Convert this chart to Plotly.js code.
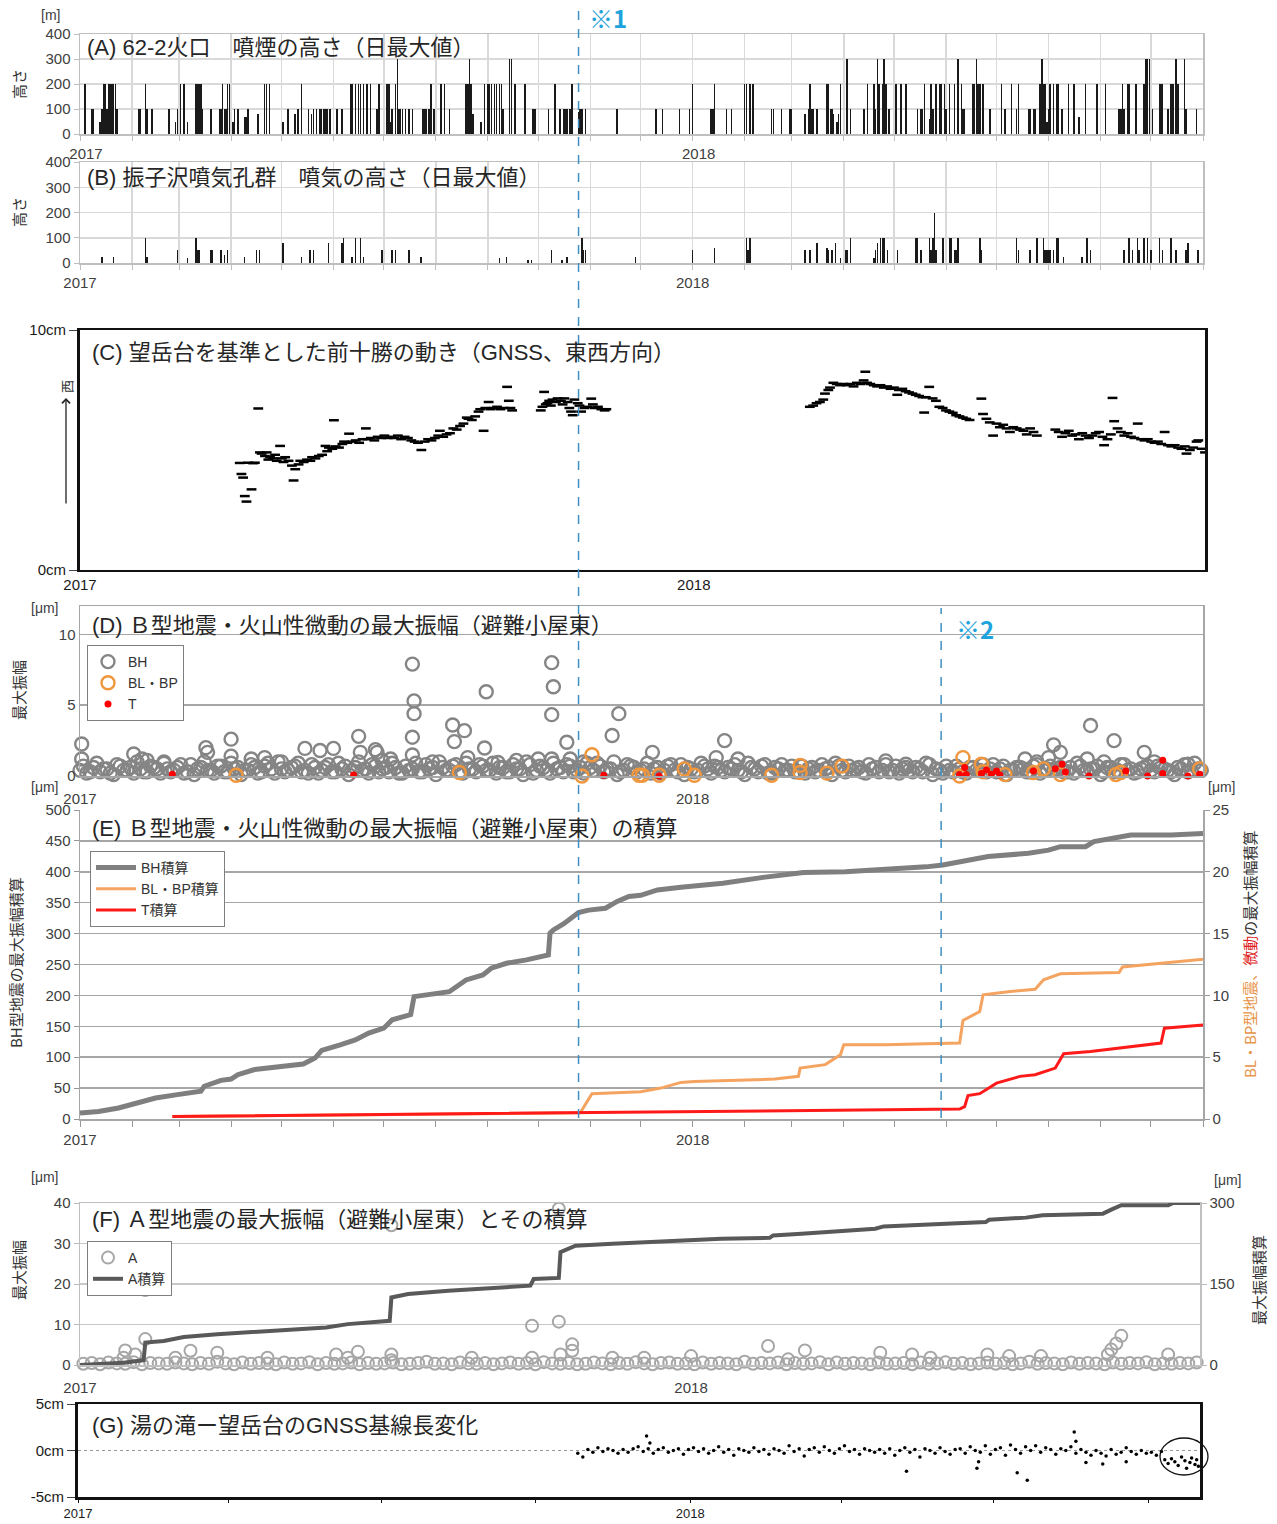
<!DOCTYPE html>
<html><head><meta charset="utf-8">
<script src="https://cdn.plot.ly/plotly-3.0.1.min.js"></script>
<style>html,body{margin:0;padding:0;background:#fff}#chart{width:1277px;height:1524px}</style>
</head><body><div id="chart"></div>
<script>
// ---------- DATA (x = days since 2017-01-01) ----------
// (A) 62-2 crater plume height, daily max [m]
const smokeDay = [3,7,8,12,13,14,15,16,17,18,
19,20,21,22,35,36,39,40,43,53,
57,58,60,62,64,69,70,71,72,73,
78,83,84,85,86,87,88,89,91,92,
94,98,99,100,106,110,111,113,121,124,
128,130,132,136,138,139,141,143,144,145,
146,147,149,153,156,161,162,164,166,167,
169,171,173,177,178,183,184,185,186,188,
189,190,191,192,194,196,198,204,205,206,
208,209,211,215,217,220,230,231,232,233,
234,239,241,243,244,245,247,248,250,251,
252,256,257,259,265,270,271,279,283,286,
288,289,290,292,293,297,298,299,301,320,
343,347,357,363,365,376,377,378,385,388,
396,397,399,401,412,413,418,423,424,432,
434,435,436,437,439,445,446,447,448,449,
451,452,453,457,459,467,469,473,474,475,
476,478,479,480,482,486,489,492,499,501,
502,503,506,507,508,510,512,513,515,516,
518,521,523,525,526,527,532,533,534,535,
536,538,542,549,551,555,558,559,565,566,
568,569,572,573,574,575,576,577,578,580,
582,583,585,589,592,595,599,606,611,619,
620,621,622,624,625,629,634,635,636,637,
639,643,644,645,648,650,651,653,654,658,
659,665];
const smokeHeight = [200,100,100,50,100,200,200,100,200,200,
200,200,200,100,100,100,200,100,100,100,
50,100,200,200,50,200,200,200,200,100,
100,100,100,200,100,100,200,200,50,100,
100,70,70,100,80,200,200,200,50,100,
80,100,200,100,80,100,100,100,100,100,
100,100,100,100,100,200,200,200,200,200,
200,200,200,100,200,200,200,50,100,200,
300,100,100,100,100,100,100,100,100,100,
100,200,100,200,200,100,200,200,300,200,
80,50,200,200,200,200,200,200,200,200,
100,300,300,200,200,100,100,100,200,100,
100,100,100,100,200,90,100,100,100,100,
100,100,100,100,200,100,100,200,100,100,
200,200,200,200,100,100,100,100,100,80,
100,200,100,100,100,200,200,100,100,80,
50,80,200,300,100,100,200,200,100,300,
200,200,300,200,100,200,200,200,100,100,
100,200,60,200,100,200,200,200,200,100,
200,200,300,200,100,100,200,200,300,200,
200,200,100,200,100,200,100,200,100,100,
100,100,200,300,200,200,50,100,200,200,
200,200,100,200,200,70,200,200,200,100,
100,200,100,200,200,200,200,300,300,300,
100,200,200,200,100,200,200,300,200,300,
100,100];

// (B) Furikozawa fumarole steam height, daily max [m]
const steamDay = [13,20,39,40,58,64,69,70,71,78,
79,84,86,88,98,105,107,121,132,137,
139,148,156,157,162,164,167,169,180,186,
188,196,203,250,254,267,269,281,287,290,
299,300,301,331,365,378,397,398,399,432,
435,439,445,446,448,450,453,456,457,459,
473,474,475,477,478,479,481,487,498,499,
501,506,507,508,509,510,514,518,519,521,
522,523,536,537,558,559,566,570,574,575,
576,577,578,580,582,583,586,597,600,602,
622,625,627,630,631,634,636,638,643,645,
650,653,659,660,666];
const steamHeight = [25,25,100,25,50,20,100,50,50,50,
50,50,30,50,25,50,50,80,25,50,
50,80,80,100,25,100,100,25,50,50,
50,50,25,20,25,10,10,50,10,25,
100,50,50,25,50,60,100,50,100,50,
50,80,60,50,50,80,20,50,50,100,
20,50,80,100,100,100,50,50,100,100,
50,100,50,100,200,50,100,100,100,50,
50,100,100,50,100,50,50,100,100,50,
50,50,50,50,100,100,25,25,100,50,
50,100,50,100,50,100,100,50,100,50,
100,50,50,80,50];

// (C) GNSS east-west [cm]
const gnssEWDay = [95,96,97,98,99,100,102,103,104,106,
107,108,110,111,112,113,115,116,117,119,
120,121,122,124,126,127,128,130,131,133,
135,137,138,140,142,144,146,147,148,150,
151,152,154,156,157,159,160,162,164,166,
168,170,171,173,175,177,179,181,183,185,
187,189,191,193,195,197,199,201,203,205,
207,209,211,213,214,216,218,220,222,224,
226,228,230,231,233,235,237,238,240,241,
243,244,246,248,250,252,254,255,256,257,
274,275,276,277,278,279,280,281,283,284,
286,287,288,290,291,292,293,294,296,297,
298,300,302,304,305,306,308,310,312,313,
434,436,438,440,442,443,445,446,448,450,
452,454,456,458,460,462,464,466,467,468,
470,472,474,476,478,480,482,484,486,487,
489,491,493,495,497,499,501,502,503,505,
507,509,511,513,515,517,519,521,523,525,
527,529,536,537,539,541,543,545,547,549,
551,553,555,557,559,561,563,565,567,569,
580,582,584,586,588,590,592,594,596,598,
600,602,604,606,608,609,611,613,614,615,
617,619,621,623,625,627,629,631,633,635,
637,639,641,643,645,647,649,651,653,655,
657,658,660,662,664,665,667,669];
const gnssEWcm = [4.46,4.0,3.85,3.08,2.85,4.47,3.36,4.45,4.47,6.73,
4.9,4.85,4.75,4.9,4.6,4.7,4.65,4.8,4.55,5.17,
4.65,4.5,4.7,4.55,4.35,3.73,4.2,4.4,4.55,4.5,
4.6,4.55,4.7,4.65,4.75,4.8,5.17,4.95,5.1,5.05,
6.24,5.15,5.1,5.25,5.35,5.3,5.68,5.35,5.4,5.3,
5.45,5.9,5.45,5.5,5.4,5.55,5.5,5.6,5.5,5.55,
5.5,5.6,5.45,5.55,5.5,5.4,5.35,5.3,5.0,5.35,
5.45,5.4,5.5,5.6,5.8,5.55,5.65,5.7,5.9,5.85,
6.0,6.1,6.35,6.3,6.25,6.4,6.6,6.7,5.8,6.75,
7.0,6.7,6.75,6.8,6.7,6.75,7.63,7.05,6.75,6.65,
6.65,6.8,7.42,6.9,6.95,7.05,6.85,7.1,7.0,7.15,
7.05,6.9,7.15,7.0,6.75,6.6,6.45,7.1,6.95,6.85,
6.6,6.75,6.8,7.14,6.9,6.75,6.8,6.7,6.65,6.7,
6.8,6.85,6.95,7.0,7.1,7.35,7.5,7.6,7.8,7.75,
7.7,7.75,7.7,7.75,7.65,7.8,7.75,7.9,8.26,7.8,
7.75,7.7,7.65,7.7,7.6,7.65,7.55,7.6,7.3,7.5,
7.55,7.45,7.4,7.35,7.3,7.25,7.2,6.56,7.2,7.63,
7.15,7.05,6.8,6.75,6.65,6.6,6.55,6.45,6.4,6.35,
6.3,6.25,7.14,6.5,6.3,6.15,5.6,6.1,5.95,6.05,
5.9,5.75,5.95,5.9,5.85,5.8,5.65,5.9,5.75,5.6,
5.85,5.75,5.55,5.7,5.8,5.6,5.65,5.45,5.7,5.6,
5.5,5.6,5.7,5.75,5.55,5.2,5.45,5.65,7.17,6.2,
5.9,5.75,5.6,5.7,5.55,5.5,6.1,5.45,5.4,5.45,
5.35,5.3,5.35,5.25,5.75,5.2,5.15,5.2,5.1,5.05,
5.15,4.85,5.0,5.1,5.35,5.4,5.05,4.9];

// (D) B-type max amplitude [μm]
const bhBaseDay = [0,4,8,12,16,20,24,28,32,36,40,44,
48,52,56,60,64,68,72,76,80,84,88,92,
96,100,104,108,112,116,120,124,128,132,136,140,
144,148,152,156,160,164,168,172,176,180,184,188,
192,196,200,204,208,212,216,220,224,228,232,236,
240,244,248,252,256,260,264,268,272,276,280,284,
288,292,296,300,304,308,312,316,320,324,328,332,
336,340,344,348,352,356,360,364,368,372,376,380,
384,388,392,396,400,404,408,412,416,420,424,428,
432,436,440,444,448,452,456,460,464,468,472,476,
480,484,488,492,496,500,504,508,512,516,520,524,
528,532,536,540,544,548,552,556,560,564,568,572,
576,580,584,588,592,596,600,604,608,612,616,620,
624,628,632,636,640,644,648,652,656,660,664,668];
const bhBaseVal = [0.4,0.2,0.6,0.3,0.5,0.1,0.7,0.4,0.2,0.5,0.3,0.6,
0.2,0.5,0.4,0.8,0.3,0.1,0.6,0.4,0.2,0.7,0.3,0.5,
0.1,0.4,0.6,0.3,0.9,0.2,0.5,0.4,0.7,0.3,0.2,0.6,
0.4,0.8,0.3,0.5,0.1,0.6,0.4,0.2,0.7,0.5,0.3,0.6,
0.2,0.4,0.9,0.3,0.5,0.1,0.6,0.4,0.8,0.2,0.5,0.3,
0.7,0.4,0.2,0.6,0.3,0.5,0.1,0.8,0.4,0.6,0.2,0.5,
0.3,0.7,0.4,0.2,0.6,0.9,0.3,0.5,0.1,0.4,0.7,0.3,
0.5,0.2,0.6,0.4,0.8,0.3,0.1,0.5,0.4,0.7,0.2,0.6,
0.3,0.5,0.4,0.1,0.6,0.3,0.8,0.2,0.5,0.4,0.7,0.3,
0.2,0.6,0.4,0.5,0.1,0.7,0.3,0.4,0.6,0.2,0.5,0.3,
0.8,0.4,0.2,0.6,0.3,0.5,0.9,0.1,0.4,0.7,0.3,0.5,
0.2,0.6,0.4,0.3,0.8,0.5,0.1,0.4,0.6,0.3,0.7,0.2,
0.5,0.4,0.6,0.3,0.2,0.7,0.4,0.5,0.1,0.6,0.3,0.8,
0.4,0.2,0.5,0.7,0.3,0.6,0.4,0.1,0.5,0.3,0.9,0.4];
const bhBase2Day = [2,6,10,14,18,22,26,30,34,38,42,46,
50,54,58,62,66,70,74,78,82,86,90,94,
98,102,106,110,114,118,122,126,130,134,138,142,
146,150,154,158,162,166,170,174,178,182,186,190,
194,198,202,206,210,214,218,222,226,230,234,238,
242,246,250,254,258,262,266,270,274,278,282,286,
290,294,298,302,306,310,314,318,322,326,330,334,
338,342,346,350,354,358,362,366,370,374,378,382,
386,390,394,398,402,406,410,414,418,422,426,430,
434,438,442,446,450,454,458,462,466,470,474,478,
482,486,490,494,498,502,506,510,514,518,522,526,
530,534,538,542,546,550,554,558,562,566,570,574,
578,582,586,590,594,598,602,606,610,614,618,622,
626,630,634,638,642,646,650,654,658,662,666];
const bhBase2Val = [0.7,0.3,0.9,0.5,0.2,0.8,0.4,0.6,1.0,0.3,0.7,0.5,
0.9,0.3,0.6,0.2,0.8,0.5,1.0,0.4,0.7,0.3,0.9,0.6,
0.4,0.8,0.2,0.7,0.5,1.0,0.3,0.6,0.9,0.4,0.8,0.2,
0.6,0.3,0.9,0.7,0.4,1.0,0.5,0.8,0.3,0.6,0.9,0.2,
0.7,0.5,0.3,0.8,0.6,1.0,0.4,0.7,0.3,0.9,0.5,0.8,
0.4,0.9,0.6,0.3,0.8,0.5,1.0,0.2,0.7,0.4,0.9,0.6,
0.8,0.3,0.6,0.9,0.4,0.7,0.5,1.0,0.3,0.8,0.6,0.4,
0.9,0.5,0.2,0.7,0.4,0.8,0.6,0.3,0.9,0.5,0.7,0.4,
0.6,0.8,0.3,0.9,0.5,0.7,0.2,0.6,0.8,0.4,0.3,0.7,
0.5,0.3,0.8,0.6,0.9,0.4,0.7,0.5,0.3,0.8,0.6,0.4,
0.3,0.7,0.5,0.4,0.6,0.3,0.8,0.5,0.2,0.4,0.7,0.3,
0.6,0.4,0.8,0.5,0.3,0.7,0.4,0.6,0.5,0.3,0.8,0.4,
0.7,0.5,0.3,0.6,0.9,0.4,0.5,0.7,0.3,0.6,0.4,0.8,
0.5,0.3,0.6,0.4,0.7,0.5,0.3,0.6,0.8,0.4,0.5];
const bhOutDay = [1,1,32,37,40,50,75,76,90,90,
102,110,120,134,143,151,166,167,176,177,
180,185,198,199,199,198,198,210,222,223,
229,231,242,241,249,260,273,281,282,281,
281,290,292,300,317,321,341,379,384,392,
480,492,563,570,577,580,584,600,602,610,
616,634,640,660];
const bhOutVal = [2.26,1.2,1.55,1.2,1.1,1.0,2.0,1.67,2.6,1.4,
1.2,1.3,1.0,1.95,1.8,1.95,2.8,1.67,1.86,1.67,
1.1,1.2,7.9,5.3,4.4,2.74,1.48,1.0,3.6,2.43,
3.2,1.3,5.95,1.98,0.95,1.1,1.2,8.0,6.3,4.33,
1.2,2.38,1.2,1.0,2.86,4.4,1.67,1.3,2.5,1.2,
1.07,0.83,1.2,1.0,1.3,2.2,1.67,1.2,3.57,1.0,
2.5,1.67,1.0,0.83];
const blDay = [93,226,299,305,333,335,345,360,366,412,429,429,445,454,524,526,537,538,551,568,574,584,617,620,667];
const blVal = [0.05,0.25,0.0,1.5,0.05,0.05,0.05,0.5,0.05,0.05,0.75,0.25,0.2,0.7,0.0,1.3,0.83,0.3,0.1,0.25,0.5,0.1,0.1,0.25,0.5];
const tDay = [55,163,312,345,524,527,528,537,540,543,546,548,568,581,585,587,601,623,636,645,645,660,667];
const tVal = [0.12,0.07,0.05,0.0,0.1,0.6,0.1,0.17,0.43,0.12,0.36,0.07,0.36,0.52,0.83,0.29,0.0,0.36,0.0,1.12,0.17,0.0,0.12];

// (E) cumulative amplitudes
const bhCumDay = [0,11,23,33,45,57,65,72,74,84,90,94,104,118,133,140,144,155,164,172,181,186,196,197,199,206,220,230,240,245,254,266,279,280,282,288,297,303,313,320,327,334,344,358,383,407,419,431,456,480,504,514,529,541,565,577,584,599,604,618,626,650,669];
const bhCumVal = [9.7,12,17.8,26,34,39,43,45,53,62.5,64.6,71.7,80,85,89,98.6,111,120,128,139,147,160.6,168.6,169,198,201,206,225,233,244,252,257.5,265.6,300.6,306,315.7,334,338,341,352,360,362,370.7,375,381.5,391,395,398.7,400,403,408,411,419,424.6,430,435,440.7,440.7,448.8,456.9,459.6,459.6,462];
const blCumDay = [55,298,305,334,346,358,366,383,414,428,429,444,453,455,480,504,524,526,536,538,553,569,574,584,619,621,650,669];
const blCumVal = [0.2,0.5,2.05,2.2,2.5,2.96,3.04,3.12,3.23,3.45,4.12,4.4,5.2,6.0,6.0,6.09,6.14,7.97,8.7,10.05,10.3,10.5,11.26,11.75,11.85,12.3,12.66,12.93];
const tCumDay = [55,297,334,456,524,527,529,536,546,560,569,581,586,602,644,646,669];
const tCumVal = [0.2,0.5,0.54,0.7,0.8,1.0,1.9,2.05,2.9,3.45,3.58,4.12,5.28,5.47,6.14,7.35,7.6];

// (F) A-type max amplitude and cumulative
const aBaseDay = [2,7,12,17,22,27,32,37,42,47,52,57,
62,67,72,77,82,87,92,97,102,107,112,117,
122,127,132,137,142,147,152,157,162,167,172,177,
182,187,192,197,202,207,212,217,222,227,232,237,
242,247,252,257,262,267,272,277,282,287,292,297,
302,307,312,317,322,327,332,337,342,347,352,357,
362,367,372,377,382,387,392,397,402,407,412,417,
422,427,432,437,442,447,452,457,462,467,472,477,
482,487,492,497,502,507,512,517,522,527,532,537,
542,547,552,557,562,567,572,577,582,587,592,597,
602,607,612,617,622,627,632,637,642,647,652,657,
662,667];
const aBaseVal = [0.3,0.5,0.2,0.6,0.4,0.3,0.7,0.2,0.5,0.4,0.3,0.6,
0.4,0.2,0.5,0.3,0.8,0.4,0.2,0.6,0.3,0.5,0.4,0.2,
0.6,0.3,0.4,0.7,0.2,0.5,0.3,0.4,0.6,0.2,0.5,0.3,
0.4,0.6,0.2,0.3,0.5,0.8,0.3,0.4,0.2,0.6,0.4,0.3,
0.5,0.2,0.4,0.6,0.3,0.5,0.2,0.7,0.4,0.3,0.5,0.2,
0.3,0.6,0.4,0.2,0.5,0.3,0.7,0.4,0.2,0.5,0.6,0.3,
0.4,0.2,0.6,0.3,0.5,0.4,0.2,0.8,0.3,0.5,0.4,0.6,
0.2,0.5,0.3,0.4,0.7,0.2,0.6,0.3,0.5,0.4,0.2,0.6,
0.3,0.4,0.5,0.2,0.6,0.3,0.4,0.7,0.3,0.5,0.2,0.4,
0.6,0.3,0.5,0.2,0.4,0.8,0.3,0.5,0.4,0.2,0.6,0.3,
0.5,0.4,0.2,0.6,0.3,0.5,0.4,0.7,0.2,0.4,0.3,0.5,
0.4,0.6];
const aOutDay = [27,33,39,39,26,57,66,82,112,153,160,166,186,186,186,234,270,270,286,286,287,294,294,318,337,365,411,423,433,478,497,508,542,555,574,614,616,619,622,650];
const aOutVal = [3.6,2.6,6.4,18.5,1.8,1.8,3.5,3.05,1.8,2.6,1.8,3.3,34.5,2.6,1.2,1.8,9.7,1.8,38.6,10.7,2.6,5.1,3.5,1.8,1.8,2.2,4.7,1.4,3.6,3.05,2.6,1.8,2.6,2.2,2.2,2.6,3.8,5.3,7.2,2.6];
const aCumDay = [0,26,38,39,50,62,82,99,123,147,160,172,185,186,196,220,245,269,271,286,287,293,296,318,334,358,383,412,414,431,456,475,480,504,541,543,565,575,611,616,622,650,653,669];
const aCumVal = [0,4.3,8.7,41.5,44.6,52,57,60,64.5,69.4,75.7,78.8,81.8,125,131.4,137.6,142.6,146.9,159.3,161.2,209,217,221,224.4,227,230.6,233.7,235.6,240,243,247.5,252.3,256.7,260.4,264.7,269,272.9,277.2,280.3,287.8,295.8,295.8,300,300];

// (G) GNSS baseline change [cm]
const blnDay = [298,301,304,307,310,313,316,319,322,325,328,331,
334,337,340,343,346,349,352,355,358,361,364,367,
370,373,376,379,382,385,388,391,394,397,400,403,
406,409,412,415,418,421,424,427,430,433,436,439,
442,445,448,451,454,457,460,463,466,469,472,475,
478,481,484,487,490,493,496,499,502,505,508,511,
514,517,520,523,526,529,532,535,538,541,544,547,
550,553,556,559,562,565,568,571,574,577,580,583,
586,589,592,595,598,601,604,607,610,613,616,619,
622,625,628,631,634,637,640,643,646];
const blnVal = [-0.3,-0.7,0.1,-0.2,0.3,-0.1,0.2,0.0,-0.3,0.1,-0.2,0.2,
0.4,-0.1,0.2,-0.3,0.1,0.3,-0.2,0.0,0.2,-0.4,0.1,0.3,
-0.1,0.2,-0.3,0.0,0.4,-0.2,0.1,-0.5,0.2,0.0,-0.2,0.3,
-0.1,0.1,-0.4,0.2,0.0,-0.3,0.5,-0.1,0.2,-0.6,0.1,0.3,
-0.2,0.4,0.0,-0.3,0.2,0.5,-0.1,0.1,-0.4,0.2,0.0,-0.2,
0.1,-0.3,0.2,-0.5,0.0,0.3,-0.2,0.1,-0.7,0.2,0.0,-0.3,
0.3,-0.1,-0.4,0.1,0.2,-0.3,0.4,0.0,-0.2,0.5,-0.4,0.1,
0.3,-0.5,0.6,0.1,-0.3,0.4,0.0,0.5,-0.2,0.3,0.1,-0.4,
0.2,0.0,0.4,-0.3,0.1,-0.2,-0.5,0.0,-0.3,-0.6,0.1,-0.4,
-0.2,0.3,-0.1,-0.4,0.0,-0.3,-0.2,-0.5,-0.1];
const blnOutDay = [339,341,494,536,537,560,566,594,595,601,611,625,648,650,652,654,656,658,660,661,663,664,666,667,668];
const blnOutVal = [1.55,0.8,-2.24,-1.9,-1.2,-2.4,-3.2,2.0,1.0,-1.3,-1.45,-1.2,-1.0,-1.4,-0.9,-1.2,-1.6,-0.7,-1.1,-1.9,-1.3,-0.8,-1.5,-1.0,-1.7];

const yearLabels = ['2017','2018'];
const panelTitles = [
  '(A) 62-2火口　噴煙の高さ（日最大値）',
  '(B) 振子沢噴気孔群　噴気の高さ（日最大値）',
  '(C) 望岳台を基準とした前十勝の動き（GNSS、東西方向）',
  '(D) Ｂ型地震・火山性微動の最大振幅（避難小屋東）',
  '(E) Ｂ型地震・火山性微動の最大振幅（避難小屋東）の積算',
  '(F) Ａ型地震の最大振幅（避難小屋東）とその積算',
  '(G) 湯の滝ー望岳台のGNSS基線長変化'
];

// ---------- helpers ----------
const W = 1277, H = 1524;
const px = v => v / W, py = v => 1 - v / H;
const DAY0 = Date.UTC(2017, 0, 1);
const d = n => new Date(DAY0 + n * 86400000).toISOString().slice(0, 10);
const dates = a => a.map(d);
const X0 = d(0), X1 = d(669);

const monthTicks = [], monthText = [], qTicks = [], qText = [];
for (let y = 2017; y <= 2018; y++) for (let m = 1; m <= 12; m++) {
  if (y === 2018 && m > 11) break;
  const s = y + '-' + String(m).padStart(2, '0') + '-01';
  const lab = m === 1 ? yearLabels[y - 2017] : '';
  monthTicks.push(s); monthText.push(lab);
  if ((m - 1) % 3 === 0) { qTicks.push(s); qText.push(lab); }
}

const SANS = 'Liberation Sans, Arial, Noto Sans CJK JP, sans-serif';
const JP = 'Noto Sans CJK JP, sans-serif';
const TF = {family: SANS, size: 15, color: '#404040'};
const TFK = {family: 'Liberation Sans Narrow, Liberation Sans, sans-serif', size: 15, color: '#1a1a1a'};
const BHM = {symbol:'circle-open', size:13, color:'#858585', line:{width:2.4}};
const AM = {symbol:'circle-open', size:12, color:'#a6a6a6', line:{width:2}};

// ---------- traces ----------
const traces = [
  {type:'bar', x:dates(smokeDay), y:smokeHeight, xaxis:'x', yaxis:'y', width:86400000*0.9,
   marker:{color:'#1a1a1a', line:{width:0}}, showlegend:false, hoverinfo:'skip'},
  {type:'bar', x:dates(steamDay), y:steamHeight, xaxis:'x2', yaxis:'y2', width:86400000*0.9,
   marker:{color:'#1a1a1a', line:{width:0}}, showlegend:false, hoverinfo:'skip'},
  {type:'scatter', mode:'markers', x:dates(gnssEWDay), y:gnssEWcm, xaxis:'x3', yaxis:'y3',
   marker:{symbol:'line-ew', size:7, color:'#000', line:{width:2.5, color:'#000'}}, showlegend:false},
  {type:'scatter', mode:'markers', name:'BH', x:dates(bhBaseDay), y:bhBaseVal, xaxis:'x4', yaxis:'y4',
   legend:'legend', legendgroup:'bh', cliponaxis:false, marker:BHM},
  {type:'scatter', mode:'markers', name:'BH', x:dates(bhBase2Day), y:bhBase2Val, xaxis:'x4', yaxis:'y4',
   legend:'legend', legendgroup:'bh', showlegend:false, cliponaxis:false, marker:BHM},
  {type:'scatter', mode:'markers', name:'BH', x:dates(bhOutDay), y:bhOutVal, xaxis:'x4', yaxis:'y4',
   legend:'legend', legendgroup:'bh', showlegend:false, cliponaxis:false, marker:BHM},
  {type:'scatter', mode:'markers', name:'BL・BP', x:dates(blDay), y:blVal, xaxis:'x4', yaxis:'y4',
   legend:'legend', cliponaxis:false,
   marker:{symbol:'circle-open', size:13, color:'#f0963c', line:{width:2.4}}},
  {type:'scatter', mode:'markers', name:'T', x:dates(tDay), y:tVal, xaxis:'x4', yaxis:'y4',
   legend:'legend', cliponaxis:false,
   marker:{symbol:'circle', size:7, color:'#ff0000'}},
  {type:'scatter', mode:'lines', name:'BH積算', x:dates(bhCumDay), y:bhCumVal, xaxis:'x5', yaxis:'y5',
   legend:'legend2', line:{color:'#7f7f7f', width:5}},
  {type:'scatter', mode:'lines', name:'BL・BP積算', x:dates(blCumDay), y:blCumVal, xaxis:'x5', yaxis:'y6',
   legend:'legend2', line:{color:'#f4a460', width:3}},
  {type:'scatter', mode:'lines', name:'T積算', x:dates(tCumDay), y:tCumVal, xaxis:'x5', yaxis:'y6',
   legend:'legend2', line:{color:'#ff1a1a', width:3}},
  {type:'scatter', mode:'markers', name:'A', x:dates(aBaseDay), y:aBaseVal, xaxis:'x6', yaxis:'y7',
   legend:'legend3', legendgroup:'a', cliponaxis:false, marker:AM},
  {type:'scatter', mode:'markers', name:'A', x:dates(aOutDay), y:aOutVal, xaxis:'x6', yaxis:'y7',
   legend:'legend3', legendgroup:'a', showlegend:false, cliponaxis:false, marker:AM},
  {type:'scatter', mode:'lines', name:'A積算', x:dates(aCumDay), y:aCumVal, xaxis:'x6', yaxis:'y8',
   legend:'legend3', line:{color:'#595959', width:4}},
  {type:'scatter', mode:'markers', x:dates(blnDay), y:blnVal, xaxis:'x7', yaxis:'y9',
   marker:{size:3.5, color:'#000'}, showlegend:false},
  {type:'scatter', mode:'markers', x:dates(blnOutDay), y:blnOutVal, xaxis:'x7', yaxis:'y9',
   marker:{size:3.5, color:'#000'}, showlegend:false}
];

// ---------- axes ----------
const xBase = (anchor, l, r) => ({domain:[px(l), px(r)], anchor, type:'date', range:[X0, X1],
  tickmode:'array', tickfont:TF, zeroline:false, fixedrange:true});
const gridX = (anchor) => Object.assign(xBase(anchor, 80, 1203), {
  tickvals:monthTicks, ticktext:monthText, ticks:'outside', ticklen:5, tickcolor:'#bfbfbf',
  showgrid:true, gridcolor:'#d9d9d9', gridwidth:1.5, showline:true, linecolor:'#bfbfbf', linewidth:1.5, mirror:true});
const gridY = (anchor, top, bot) => ({domain:[py(bot), py(top)], anchor, range:[0,400], dtick:100,
  ticks:'outside', ticklen:5, tickcolor:'#bfbfbf', tickfont:TF, showgrid:true, gridcolor:'#d9d9d9', gridwidth:1.5,
  showline:true, linecolor:'#bfbfbf', linewidth:1.5, mirror:true, zeroline:false});

const layout = {
  width:W, height:H, margin:{l:0,r:0,t:0,b:0}, paper_bgcolor:'#fff', plot_bgcolor:'#fff',
  showlegend:true, bargap:0, font:{family:SANS, color:'#404040'},
  xaxis: Object.assign(gridX('y'), {ticklabelshift:6}),
  yaxis: gridY('x', 34, 134),
  xaxis2: gridX('y2'),
  yaxis2: gridY('x2', 162, 263),
  xaxis3: Object.assign(xBase('y3', 80, 1205), {tickvals:[X0, d(365)], ticktext:yearLabels, ticks:'',
    tickfont:TFK, showgrid:false, showline:true, linecolor:'#111', linewidth:2, mirror:true}),
  yaxis3: {domain:[py(570), py(330)], anchor:'x3', range:[0,10], tickmode:'array', tickvals:[0,10],
    ticktext:['0cm','10cm'], ticks:'outside', ticklen:8, tickcolor:'#444', tickfont:TFK, showgrid:false,
    showline:true, linecolor:'#111', linewidth:3, mirror:true, zeroline:false},
  xaxis4: Object.assign(xBase('y4', 80, 1203), {tickvals:[X0, d(365)], ticktext:yearLabels, ticks:'outside',
    ticklen:8, tickcolor:'rgba(0,0,0,0)', showgrid:false, showline:true, linecolor:'#a6a6a6', linewidth:1.5, mirror:true}),
  yaxis4: {domain:[py(776), py(606)], anchor:'x4', range:[0,12], tickmode:'array', tickvals:[0,5,10],
    ticks:'', tickfont:TF, showgrid:true, gridcolor:'#a6a6a6', gridwidth:1.5, showline:true,
    linecolor:'#a6a6a6', linewidth:1.5, mirror:true, zeroline:false},
  xaxis5: Object.assign(xBase('y5', 80, 1203), {tickvals:monthTicks, ticktext:monthText, ticks:'outside',
    ticklen:6, tickcolor:'#999', showgrid:false, showline:true, linecolor:'#a6a6a6', linewidth:1.5}),
  yaxis5: {domain:[py(1119), py(810)], anchor:'x5', range:[0,500], dtick:50, ticks:'outside', ticklen:5,
    tickcolor:'#999', tickfont:TF, showgrid:true, gridcolor:'#a6a6a6', gridwidth:1.5, showline:true,
    linecolor:'#a6a6a6', linewidth:1.5, zeroline:false},
  yaxis6: {overlaying:'y5', side:'right', anchor:'x5', range:[0,25], dtick:5, ticks:'outside', ticklen:5,
    tickcolor:'#999', tickfont:TF, showgrid:false, showline:true, linecolor:'#a6a6a6', linewidth:1.5, zeroline:false},
  xaxis6: Object.assign(xBase('y7', 80, 1200), {tickvals:[X0, d(365)], ticktext:yearLabels, ticks:'outside',
    ticklen:8, tickcolor:'rgba(0,0,0,0)', showgrid:false, showline:true, linecolor:'#c0c0c0', linewidth:1.5, mirror:true}),
  yaxis7: {domain:[py(1365), py(1203)], anchor:'x6', range:[0,40], dtick:10, ticks:'outside', ticklen:5,
    tickcolor:'#bbb', tickfont:TF, showgrid:true, gridcolor:'#c8c8c8', gridwidth:1.5, showline:true,
    linecolor:'#c0c0c0', linewidth:1.5, zeroline:false},
  yaxis8: {overlaying:'y7', side:'right', anchor:'x6', range:[0,300], tickmode:'array', tickvals:[0,150,300],
    ticks:'outside', ticklen:5, tickcolor:'#bbb', tickfont:TF, showgrid:false, showline:true,
    linecolor:'#c0c0c0', linewidth:1.5, zeroline:false},
  xaxis7: Object.assign(xBase('y9', 78, 1200), {tickvals:qTicks, ticktext:qText, ticks:'outside', ticklen:3,
    tickcolor:'#111', tickfont:Object.assign({}, TFK, {size:13}), showgrid:false, showline:true,
    linecolor:'#111', linewidth:2.5, mirror:true}),
  yaxis9: {domain:[py(1497), py(1404)], anchor:'x7', range:[-5,5], tickmode:'array', tickvals:[-5,0,5],
    ticktext:['-5cm','0cm','5cm'], ticks:'outside', ticklen:8, tickcolor:'#444', tickfont:TFK, showgrid:false,
    showline:true, linecolor:'#111', linewidth:3, mirror:true, zeroline:false},
  legend: {x:px(87), y:py(645), xanchor:'left', yanchor:'top', bgcolor:'#fff', bordercolor:'#7f7f7f',
    borderwidth:1, font:{family:SANS, size:14, color:'#333'}, tracegroupgap:0, itemwidth:30},
  legend2: {x:px(90), y:py(851), xanchor:'left', yanchor:'top', bgcolor:'#fff', bordercolor:'#7f7f7f',
    borderwidth:1, font:{family:SANS, size:14, color:'#333'}, tracegroupgap:0, itemwidth:40},
  legend3: {x:px(87), y:py(1241), xanchor:'left', yanchor:'top', bgcolor:'#fff', bordercolor:'#7f7f7f',
    borderwidth:1, font:{family:SANS, size:14, color:'#333'}, tracegroupgap:0, itemwidth:30},
  shapes: [
    {type:'line', xref:'x', yref:'paper', x0:d(297), x1:d(297), y0:py(1118), y1:py(4),
     line:{color:'#3f8fc4', width:1.5, dash:'dash'}},
    {type:'line', xref:'x', yref:'paper', x0:d(513), x1:d(513), y0:py(1118), y1:py(608),
     line:{color:'#3f8fc4', width:1.5, dash:'dash'}},
    {type:'line', xref:'x7 domain', yref:'y9', x0:0, x1:1, y0:0, y1:0, layer:'below',
     line:{color:'#999', width:1, dash:'dot'}},
    {type:'circle', xref:'paper', yref:'paper', x0:px(1160), x1:px(1208), y0:py(1475), y1:py(1438),
     line:{color:'#111', width:1.3}}
  ],
  annotations: []
};

const titleY = [48, 178, 352, 625, 828, 1219, 1425];
const titleX = [85, 85, 90, 90, 90, 90, 90];
panelTitles.forEach((t, i) => layout.annotations.push({text:t, xref:'paper', yref:'paper',
  x:px(titleX[i]), y:py(titleY[i]), xanchor:'left', yanchor:'middle', showarrow:false,
  font:{family:SANS, size:22, color:'#262626'}}));

const lab = (text, x, y, opts) => layout.annotations.push(Object.assign({text, xref:'paper', yref:'paper',
  x:px(x), y:py(y), xanchor:'center', yanchor:'middle', showarrow:false,
  font:{family:SANS, size:14, color:'#404040'}}, opts || {}));
const vfont = {family:JP, size:15, color:'#333333'};
lab('[m]', 50, 15);
lab('高さ', 18, 84, {textangle:-90, font:vfont});
lab('高さ', 18, 212, {textangle:-90, font:vfont});
lab('[μm]', 45, 608);
lab('最大振幅', 18, 690, {textangle:-90, font:vfont});
lab('[μm]', 45, 787);
lab('[μm]', 1222, 787);
lab('BH型地震の最大振幅積算', 15, 963, {textangle:-90, font:vfont});
lab('<span style="color:#e8954a">BL・BP型地震、</span><span style="color:#e02020">微動</span>の最大振幅積算',
    1250, 955, {textangle:-90, font:vfont});
lab('[μm]', 45, 1177);
lab('[μm]', 1228, 1180);
lab('最大振幅', 18, 1270, {textangle:-90, font:vfont});
lab('最大振幅積算', 1258, 1280, {textangle:-90, font:vfont});
lab('西', 66, 387, {textangle:-90, font:{family:JP, size:13, color:'#333'}});
layout.annotations.push({text:' ', xref:'paper', yref:'paper', x:px(66), y:py(398), showarrow:true,
  ax:0, ay:114, arrowhead:4, arrowsize:1.2, arrowwidth:1.3, arrowcolor:'#222'});
lab('<b>※1</b>', 608, 17, {font:{family:JP, size:24, color:'#1fa3dc'}});
lab('<b>※2</b>', 975, 628, {font:{family:JP, size:24, color:'#1fa3dc'}});

Plotly.newPlot('chart', traces, layout, {staticPlot:true, displayModeBar:false});
</script></body></html>
